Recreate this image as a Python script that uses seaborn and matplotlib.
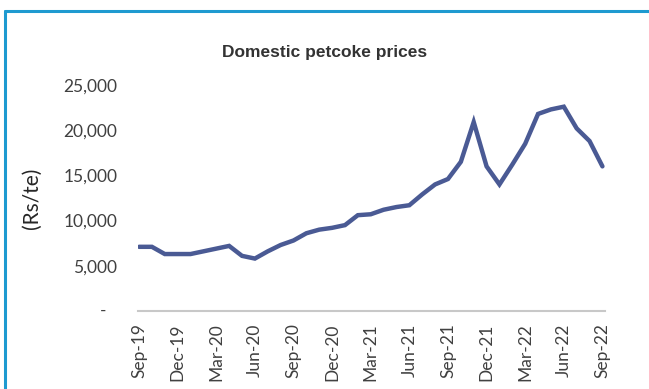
import matplotlib
matplotlib.use("Agg")
import matplotlib.pyplot as plt
import matplotlib.transforms as mtransforms
from matplotlib.lines import Line2D
from matplotlib.ticker import FuncFormatter
import seaborn as sns
import pandas as pd

# Monthly domestic petcoke prices, Sep-2019 .. Sep-2022 (Rs/te)
months = ["Sep-19", "Oct-19", "Nov-19", "Dec-19", "Jan-20", "Feb-20", "Mar-20",
          "Apr-20", "May-20", "Jun-20", "Jul-20", "Aug-20", "Sep-20", "Oct-20",
          "Nov-20", "Dec-20", "Jan-21", "Feb-21", "Mar-21", "Apr-21", "May-21",
          "Jun-21", "Jul-21", "Aug-21", "Sep-21", "Oct-21", "Nov-21", "Dec-21",
          "Jan-22", "Feb-22", "Mar-22", "Apr-22", "May-22", "Jun-22", "Jul-22",
          "Aug-22", "Sep-22"]
prices = [7100, 7100, 6300, 6300, 6300, 6600, 6900,
          7200, 6100, 5800, 6600, 7300, 7800, 8600,
          9000, 9200, 9500, 10600, 10700, 11200, 11500,
          11700, 12900, 14000, 14600, 16500, 20900, 16000,
          14000, 16200, 18500, 21800, 22300, 22600, 20200,
          18800, 16000]
y_ticks = [0, 5000, 10000, 15000, 20000, 25000]

df = pd.DataFrame({"idx": range(len(months)), "month": months, "price": prices})

sns.set_style("white")
plt.rcParams["font.family"] = ["Lato", "DejaVu Sans"]

W, H = 649, 389
fig = plt.figure(figsize=(W / 100, H / 100), dpi=100)
fig.patch.set_facecolor("white")

ax = fig.add_axes([138 / W, 78 / H, 467 / W, 226 / H])
sns.lineplot(data=df, x="idx", y="price", ax=ax, color="#4a5a94",
             linewidth=3.2, solid_joinstyle="miter")

ax.set_xlim(-0.08, 36.2)
ax.set_ylim(0, 25000)

# x axis: every third month
tick_pos = list(range(0, len(months), 3))
ax.set_xticks(tick_pos)
ax.set_xticklabels([months[i] for i in tick_pos], rotation=90,
                   fontsize=12.5, color="#404040")
shift = mtransforms.ScaledTranslation(6 / 100, 0, fig.dpi_scale_trans)
for lab in ax.get_xticklabels():
    lab.set_transform(lab.get_transform() + shift)
ax.tick_params(axis="x", length=4, width=1, color="#c8c8c8",
               direction="out", pad=5)

# y axis: accounting-style numbers, zero shown as a dash
ax.set_yticks(y_ticks)
ax.yaxis.set_major_formatter(FuncFormatter(
    lambda v, p: "" if v == 0 else f"{int(v):,}"))
ax.tick_params(axis="y", length=0, pad=15, labelsize=12.5,
               labelcolor="#404040")
ax.annotate("-", xy=(0, 0), xycoords=("axes fraction", "data"),
            xytext=(-35, 0), textcoords="offset pixels",
            ha="center", va="center", fontsize=12.5, color="#404040")

ax.set_xlabel("")
ax.set_ylabel("(Rs/te)", fontsize=15, color="#262626")
ax.yaxis.set_label_coords(-96 / 467, 0.5)

for side in ("top", "right", "left"):
    ax.spines[side].set_visible(False)
ax.spines["bottom"].set_color("#c8c8c8")
ax.spines["bottom"].set_linewidth(1.5)
ax.grid(False)

fig.text(325 / W, 1 - 52 / H, "Domestic petcoke prices",
         family=["Liberation Sans", "DejaVu Sans"], fontweight="bold",
         fontsize=12.5, color="#333333", ha="center", va="center")

# frame around the chart panel (left and top edges)
frame_kw = dict(transform=fig.transFigure, color="#1e9ad0", linewidth=2.2)
fig.add_artist(Line2D([5 / W, 5 / W], [0, 1 - 10.5 / H], **frame_kw))
fig.add_artist(Line2D([5 / W, 1], [1 - 10.5 / H, 1 - 10.5 / H], **frame_kw))

fig.savefig("out.png", dpi=100, facecolor="white")
